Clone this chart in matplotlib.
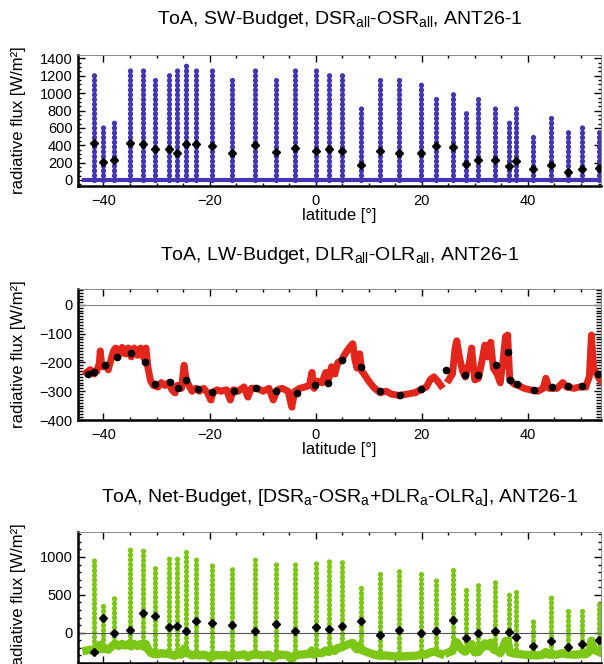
import numpy as np
import matplotlib
matplotlib.use("Agg")
import matplotlib.pyplot as plt
from matplotlib.ticker import MultipleLocator

plt.rcParams["font.family"] = ["Liberation Sans", "DejaVu Sans"]
plt.rcParams["mathtext.fontset"] = "custom"
plt.rcParams["mathtext.rm"] = "Liberation Sans"
plt.rcParams["font.size"] = 10.5

BLUE = "#4336b3"
RED = "#e3261c"
GREEN = "#7cc715"

# -------- SW budget: daily spikes (lat, max value) + daily means --------
sw_lat = [-41.7, -40.0, -38.0, -35.0, -32.6, -30.3, -27.6, -26.1, -24.4, -22.6,
          -19.6, -15.7, -11.5, -7.5, -3.8, 0.0, 2.5, 5.0, 8.6, 12.1,
          15.8, 19.9, 22.7, 25.9, 28.4, 30.6, 33.9, 36.5, 37.7, 40.9,
          44.3, 47.5, 50.3, 53.5]
sw_top = [1231, 642, 690, 1276, 1287, 1194, 1250, 1287, 1325, 1313,
          1287, 1187, 1313, 1194, 1269, 1269, 1250, 1213, 858, 1157,
          1175, 1101, 970, 1026, 821, 933, 877, 690, 866, 504,
          728, 578, 616, 604]
sw_mean = [425, 205, 231, 425, 410, 351, 351, 313, 414, 410,
           396, 313, 399, 317, 373, 336, 351, 328, 175, 336,
           310, 306, 392, 381, 179, 231, 231, 157, 213, 123,
           168, 93, 131, 142]
sw_night_lat = [-43.6, 53.9]

# -------- LW budget: continuous track + daily means --------
lw_lat = [-43.2, -42.5, -41.8, -41.3, -40.8, -40.6, -40.3, -39.6, -39.1, -38.5,
          -38.1, -37.7, -37.1, -36.5, -35.9, -35.3, -34.8, -34.2, -33.6, -33.0,
          -32.4, -32.0, -31.6, -31.1, -30.6, -29.8, -29.1, -28.4, -27.7, -27.1,
          -26.6, -26.1, -25.3, -24.8, -24.4, -23.9, -23.3, -22.6, -21.9, -21.1,
          -20.4, -19.8, -19.3, -18.6, -17.9, -16.8, -16.1, -15.5, -14.6, -13.5,
          -12.8, -12.1, -11.0, -9.9, -8.8, -8.0, -7.2, -6.3, -5.2, -4.5,
          -3.9, -3.0, -2.0, -1.2, -0.7, -0.3, 0.3, 1.2, 1.9, 2.5,
          3.0, 3.6, 4.2, 4.8, 5.4, 5.9, 6.5, 7.0, 7.4, 7.8,
          8.3, 8.7, 9.3, 10.0, 11.1, 12.2, 13.3, 14.3, 15.8, 17.2,
          18.7, 19.8, 20.9, 21.6, 22.3, 23.0, 23.6, 24.3, 25.1, 25.8,
          26.3, 26.6, 27.1, 27.7, 28.2, 29.0, 29.4, 30.0, 30.7, 31.3,
          31.9, 32.4, 33.0, 33.5, 34.2, 34.8, 35.3, 35.8, 36.2, 36.6,
          37.4, 38.2, 39.3, 40.4, 41.9, 42.9, 43.4, 44.0, 45.5, 46.6,
          47.3, 48.7, 49.8, 50.9, 51.6, 52.0, 52.4, 53.1, 53.8]
lw_val = [-235, -225, -240, -230, -205, -160, -215, -210, -225, -185,
          -160, -150, -175, -148, -170, -150, -180, -150, -175, -150,
          -185, -150, -220, -265, -280, -285, -270, -280, -270, -295,
          -305, -280, -290, -210, -260, -280, -300, -290, -300, -290,
          -305, -330, -305, -295, -300, -295, -330, -295, -300, -285,
          -320, -290, -290, -300, -290, -330, -295, -290, -300, -355,
          -300, -290, -285, -280, -235, -290, -265, -270, -235, -255,
          -215, -240, -200, -195, -175, -160, -145, -135, -190, -220,
          -170, -230, -245, -265, -290, -305, -300, -310, -315, -310,
          -305, -295, -285, -260, -250, -265, -280, np.nan, -260, -240,
          -150, -125, -180, -230, -250, -200, -150, -260, -255, -200,
          -140, -180, -130, -220, -240, -270, -200, -110, -105, -260,
          -275, -280, -290, -295, -300, -290, -255, -290, -290, -270,
          -285, -290, -285, -285, -250, -105, -220, -245, -265]
lw_mean_lat = [-43.0, -41.8, -39.8, -37.4, -34.9, -32.2, -30.2, -27.4, -25.9, -24.4,
               -22.2, -19.5, -15.4, -11.2, -7.5, -3.6, -0.1, 2.4, 4.9, 8.5,
               12.2, 15.9, 19.8, 24.5, 28.2, 30.6, 34.0, 36.2, 36.6, 38.0,
               41.1, 44.5, 47.6, 50.2, 53.2]
lw_mean = [-240, -235, -210, -180, -168, -198, -275, -268, -288, -262,
           -292, -303, -298, -288, -300, -305, -280, -270, -190, -215,
           -298, -312, -292, -228, -245, -245, -210, -163, -260, -275,
           -297, -285, -283, -282, -240]

# -------- Net budget: daily spikes (night value -> max) + daily means --------
net_top = [1000, 400, 500, 1110, 1120, 900, 1020, 1000, 1070, 1000,
           950, 860, 990, 920, 930, 940, 960, 980, 610, 830,
           810, 800, 700, 850, 560, 680, 690, 520, 540, 210,
           480, 290, 330, 420]
net_base = [-235, -215, -175, -165, -180, -280, -275, -285, -260, -290,
            -310, -300, -290, -300, -300, -280, -260, -200, -230, -300,
            -315, -295, -260, -245, -250, -250, -220, -260, -275, -295,
            -290, -285, -285, -250]
net_mean = [-250, 200, -10, 40, 260, 215, 80, 88, 22, 158,
            123, 105, 22, 118, 18, 70, 53, 83, 150, -30,
            35, -5, 18, 167, -65, -10, 26, 5, -57, -171,
            -114, -193, -149, -96]

fig = plt.figure(figsize=(6.04, 6.64), dpi=100)
W, H = 604.0, 664.0


def make_axes(top_px):
    ax = fig.add_axes([78 / W, 1 - (top_px + 131) / H, 523 / W, 131 / H])
    ax.set_xlim(-44.8, 53.8)
    ax.xaxis.set_major_locator(MultipleLocator(20))
    ax.xaxis.set_minor_locator(MultipleLocator(5))
    ax.tick_params(which="both", direction="in", top=True, right=True, width=1.0)
    ax.tick_params(which="major", length=5, labelsize=10.5)
    ax.tick_params(axis="x", which="major", pad=6)
    ax.tick_params(axis="y", which="major", pad=4)
    ax.tick_params(which="minor", length=2.5)
    for side in ["left", "bottom"]:
        ax.spines[side].set_linewidth(1.8)
    for side in ["top", "right"]:
        ax.spines[side].set_linewidth(0.6)
        ax.spines[side].set_color("#777777")
    ax.set_ylabel("radiative flux [W/m²]", fontsize=12)
    ax.yaxis.set_label_coords(-0.1, 0.5)
    return ax


def title(top_px, text):
    fig.text((78 + 261.5) / W, 1 - top_px / H, text, ha="center", va="center", fontsize=14)


# -------- Panel 1 --------
ax1 = make_axes(55)
spikes1 = ax1.vlines(sw_lat, 0, sw_top, colors=BLUE, lw=3.8, linestyles=(0, (0.05, 0.85)))
spikes1.set_capstyle("round")
ax1.plot(sw_night_lat, [0, 0], color=BLUE, lw=3)
ax1.plot(sw_lat, sw_mean, "D", color="black", ms=4.5)
ax1.set_ylim(-70, 1440)
ax1.yaxis.set_major_locator(MultipleLocator(200))
ax1.yaxis.set_minor_locator(MultipleLocator(50))
ax1.set_xlabel("latitude [°]", fontsize=12, labelpad=0)
title(20, r"ToA, SW-Budget, DSR$_{\rm all}$-OSR$_{\rm all}$, ANT26-1")

# -------- Panel 2 --------
ax2 = make_axes(289)
ax2.axhline(0, color="#888888", lw=0.8)
ax2.plot(lw_lat, lw_val, color=RED, lw=5, marker="o", ms=3)
ax2.plot(lw_mean_lat, lw_mean, "o", color="black", ms=4.5)
ax2.set_ylim(-400, 55)
ax2.yaxis.set_major_locator(MultipleLocator(100))
ax2.yaxis.set_minor_locator(MultipleLocator(10))
ax2.tick_params(axis="y", which="minor", length=3.5)
ax2.set_xlabel("latitude [°]", fontsize=12, labelpad=0)
title(255, r"ToA, LW-Budget, DLR$_{\rm all}$-OLR$_{\rm all}$, ANT26-1")

# -------- Panel 3 --------
ax3 = make_axes(532)
ax3.plot(lw_lat, lw_val, color=GREEN, lw=6)
spikes3 = ax3.vlines(sw_lat, net_base, net_top, colors=GREEN, lw=3.8, linestyles=(0, (0.05, 0.85)))
spikes3.set_capstyle("round")
ax3.axhline(0, color="#555555", lw=0.8)
ax3.plot(sw_lat, net_mean, "D", color="black", ms=4.5)
ax3.set_ylim(-400, 1330)
ax3.yaxis.set_major_locator(MultipleLocator(500))
ax3.yaxis.set_minor_locator(MultipleLocator(100))
ax3.tick_params(axis="x", labelbottom=False)
title(497, r"ToA, Net-Budget, [DSR$_{\rm a}$-OSR$_{\rm a}$+DLR$_{\rm a}$-OLR$_{\rm a}$], ANT26-1")

fig.savefig("out.png", dpi=100)
print("Saved out.png")
